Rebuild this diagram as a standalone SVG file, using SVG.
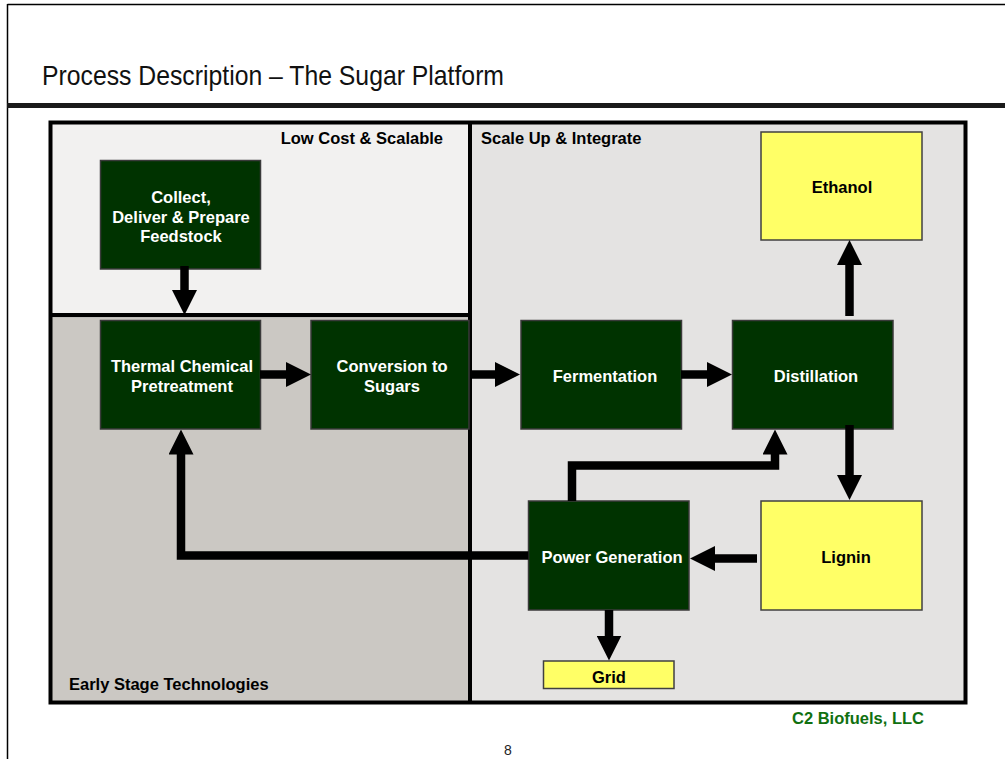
<svg xmlns="http://www.w3.org/2000/svg" width="1005" height="759" viewBox="0 0 1005 759">
<style>
.lbl{font-family:"Liberation Sans",Arial,sans-serif;font-weight:bold;font-size:16.5px}
.w{fill:#ffffff}
.k{fill:#000000}
.g{fill:#003300;stroke:#3a3a3a;stroke-width:1.5}
.y{fill:#ffff66;stroke:#404040;stroke-width:1.5}
.c{fill:none;stroke:#000000;stroke-width:8.5;stroke-linejoin:miter}
</style>
<defs>
<marker id="ah" viewBox="0 0 25 25" refX="0.5" refY="12.5" markerWidth="25" markerHeight="25" markerUnits="userSpaceOnUse" orient="auto">
<path d="M0,0 L25,12.5 L0,25 Z" fill="#000000"/>
</marker>
</defs>
<rect x="0" y="0" width="1005" height="759" fill="#ffffff"/>
<!-- page frame -->
<g id="page">
<line x1="7.5" y1="4.5" x2="1005" y2="4.5" stroke="#000" stroke-width="1.5"/>
<line x1="7.5" y1="4" x2="7.5" y2="759" stroke="#000" stroke-width="1.5"/>
<rect x="7" y="103" width="998" height="5" fill="#1a1a1a"/>
<text x="42" y="85" font-family="'Liberation Sans Narrow','Liberation Sans',Arial,sans-serif" font-size="28" textLength="462" lengthAdjust="spacingAndGlyphs" fill="#111">Process Description – The Sugar Platform</text>
</g>
<!-- panels -->
<g id="panels">
<rect x="50.5" y="122.5" width="419.5" height="192.5" fill="#f2f1f0"/>
<rect x="50.5" y="315" width="419.5" height="387.5" fill="#cbc8c3"/>
<rect x="470" y="122.5" width="495.5" height="580" fill="#e4e3e2"/>
<line x1="50" y1="316.5" x2="470" y2="316.5" stroke="#9a9a9a" stroke-width="1.5"/>
<line x1="50" y1="315" x2="470" y2="315" stroke="#000" stroke-width="4"/>
<line x1="470" y1="122" x2="470" y2="703" stroke="#000" stroke-width="4"/>
<rect x="50.5" y="122.5" width="915" height="580" fill="none" stroke="#000" stroke-width="4"/>
<text class="lbl k" x="443" y="144" text-anchor="end">Low Cost &amp; Scalable</text>
<text class="lbl k" x="481" y="143.5">Scale Up &amp; Integrate</text>
<text class="lbl k" x="69" y="690">Early Stage Technologies</text>
</g>
<!-- nodes -->
<g id="collect">
<rect class="g" x="100.5" y="160.5" width="160" height="108.5"/>
<text class="lbl w" text-anchor="middle"><tspan x="181" y="202.5">Collect,</tspan><tspan x="181" y="222.5">Deliver &amp; Prepare</tspan><tspan x="181" y="242">Feedstock</tspan></text>
</g>
<g id="thermal">
<rect class="g" x="100.5" y="320.5" width="160" height="108.5"/>
<text class="lbl w" text-anchor="middle"><tspan x="182" y="371.5">Thermal Chemical</tspan><tspan x="182" y="391.5">Pretreatment</tspan></text>
</g>
<g id="conversion">
<rect class="g" x="311" y="320.5" width="158" height="108.5"/>
<text class="lbl w" text-anchor="middle"><tspan x="392" y="371.5">Conversion to</tspan><tspan x="392" y="391.5">Sugars</tspan></text>
</g>
<g id="fermentation">
<rect class="g" x="521" y="320.5" width="160.5" height="108.5"/>
<text class="lbl w" x="605" y="381.5" text-anchor="middle">Fermentation</text>
</g>
<g id="distillation">
<rect class="g" x="732.5" y="320.5" width="160.5" height="108.5"/>
<text class="lbl w" x="816" y="381.5" text-anchor="middle">Distillation</text>
</g>
<g id="ethanol">
<rect class="y" x="761" y="132" width="161" height="108"/>
<text class="lbl k" x="842" y="192.5" text-anchor="middle">Ethanol</text>
</g>
<g id="lignin">
<rect class="y" x="761" y="501" width="161" height="109"/>
<text class="lbl k" x="846" y="563" text-anchor="middle">Lignin</text>
</g>
<g id="power">
<rect class="g" x="528.5" y="501" width="160.5" height="109"/>
<text class="lbl w" x="612" y="563" text-anchor="middle">Power Generation</text>
</g>
<g id="grid">
<rect class="y" x="543.5" y="661" width="130.5" height="27.5"/>
<text class="lbl k" x="609" y="682.5" text-anchor="middle">Grid</text>
</g>
<!-- connectors -->
<g id="connectors">
<path class="c" d="M184.5,266 V290.5" marker-end="url(#ah)"/>
<path class="c" d="M260,374.5 H286.5" marker-end="url(#ah)"/>
<path class="c" d="M470,374.5 H495.5" marker-end="url(#ah)"/>
<path class="c" d="M681,374.5 H707.5" marker-end="url(#ah)"/>
<path class="c" d="M849.5,316 V264.5" marker-end="url(#ah)"/>
<path class="c" d="M849.5,425 V475.5" marker-end="url(#ah)"/>
<path class="c" d="M757,558.5 H714.5" marker-end="url(#ah)"/>
<path class="c" d="M572,501 V465.5 H775 V454" marker-end="url(#ah)"/>
<path class="c" d="M609,610 V636" marker-end="url(#ah)"/>
<path class="c" d="M528.5,555.5 H181 V454" marker-end="url(#ah)"/>
</g>
<g id="footer">
<text class="lbl" x="792" y="723.5" fill="#107010">C2 Biofuels, LLC</text>
<text x="504" y="755" font-family="'Liberation Sans',Arial,sans-serif" font-size="14" fill="#222">8</text>
</g>
</svg>
